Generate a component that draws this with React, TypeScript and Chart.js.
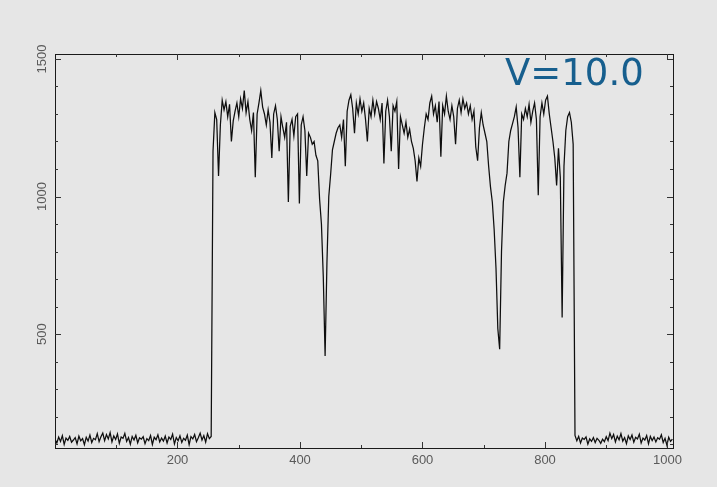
import React, { useEffect, useRef } from "react";
import { Chart, registerables } from "chart.js";

Chart.register(...registerables);

// Sampling step along the x axis (channel units)
const channelStep = 3;

// Left dark baseline (channels 0..255)
const baselineLeft = [
  118, 104, 126, 110, 131, 99, 122, 114, 128, 107,
  115, 124, 101, 129, 112, 120, 98, 125, 111, 133,
  106, 121, 116, 138, 109, 127, 140, 113, 135, 119,
  142, 108, 130, 117, 137, 103, 126, 121, 139, 110,
  124, 100, 128, 115, 132, 105, 123, 118, 127, 102,
  120, 113, 131, 99, 125, 116, 134, 108, 122, 111,
  129, 104, 126, 117, 136, 101, 124, 112, 130, 106,
  121, 114, 133, 98, 127, 119, 135, 109, 123, 140,
  115, 131, 107, 138, 120, 128,
];

// Illuminated spectrum (channels 258..846)
const spectrum = [
  1165, 1305, 1280, 1075, 1260, 1350, 1315, 1345, 1290, 1335,
  1200, 1275, 1310, 1340, 1290, 1355, 1320, 1385, 1305, 1345,
  1280, 1240, 1305, 1070, 1300, 1340, 1385, 1325, 1300, 1260,
  1315, 1270, 1140, 1300, 1330, 1280, 1165, 1290, 1250, 1215,
  1270, 980, 1255, 1280, 1220, 1290, 1300, 975, 1260, 1290,
  1240, 1075, 1230, 1215, 1190, 1200, 1150, 1130, 990, 900,
  710, 420, 760, 1000, 1080, 1170, 1200, 1230, 1250, 1260,
  1215, 1280, 1110, 1310, 1350, 1370, 1320, 1230, 1340, 1300,
  1355, 1310, 1340, 1280, 1200, 1320, 1290, 1350, 1300, 1345,
  1320, 1280, 1340, 1120, 1310, 1350, 1290, 1165, 1330, 1310,
  1345, 1100, 1290, 1260, 1230, 1270, 1215, 1245, 1200, 1175,
  1130, 1055, 1140, 1110, 1190, 1250, 1300, 1280, 1340, 1365,
  1300, 1330, 1270, 1345, 1145, 1330, 1300, 1365, 1310, 1280,
  1330, 1290, 1190, 1320, 1350, 1305, 1355, 1320, 1340, 1300,
  1330, 1280, 1310, 1180, 1130, 1250, 1305, 1260, 1230, 1200,
  1110, 1035, 980, 880, 740, 520, 445, 800, 980, 1040,
  1085, 1200, 1240, 1265, 1290, 1325, 1250, 1070, 1300, 1280,
  1320, 1290, 1335, 1270, 1310, 1340, 1280, 1005, 1290, 1340,
  1300, 1350, 1365, 1300, 1250, 1200, 1140, 1040, 1175, 1070,
  560, 1110, 1240, 1290, 1305, 1270, 1190,
];

// Right dark baseline (channels 849..1008)
const baselineRight = [
  132, 112, 128, 104, 122, 117, 126, 100, 119, 110,
  124, 106, 121, 114, 103, 118, 109, 127, 113, 140,
  120, 135, 108, 129, 116, 138, 111, 124, 102, 130,
  117, 133, 107, 125, 119, 136, 104, 122, 115, 131,
  101, 128, 113, 126, 108, 123, 118, 134, 106, 121,
  96, 125, 110, 118,
];

const xTickValues = [100, 200, 300, 400, 500, 600, 700, 800, 900, 1000];
const xTickLabels = ["200", "400", "600", "800", "1000"];
const yTickValues = [100, 200, 300, 400, 500, 600, 700, 800, 900, 1000, 1100, 1200, 1300, 1400, 1500];
const yTickLabels = ["500", "1000", "1500"];
const annotationText = "V=10.0";

const X_MIN = 0;
const X_MAX = 1009;
const Y_MIN = 86;
const Y_MAX = 1518;

const BG = "#e6e6e6";

export default function App() {
  const canvasRef = useRef<HTMLCanvasElement | null>(null);

  useEffect(() => {
    document.body.style.margin = "0";
    const canvas = canvasRef.current;
    if (!canvas) return;

    const counts = [...baselineLeft, ...spectrum, ...baselineRight];
    const points = counts.map((c, i) => ({ x: i * channelStep, y: c }));

    const framePlugin = {
      id: "framePlugin",
      beforeDraw(chart: any) {
        const ctx = chart.ctx;
        ctx.save();
        ctx.fillStyle = BG;
        ctx.fillRect(0, 0, chart.width, chart.height);
        ctx.restore();
      },
      afterDraw(chart: any) {
        const ctx = chart.ctx;
        const { left, right, top, bottom } = chart.chartArea;
        const xs = chart.scales.x;
        const ys = chart.scales.y;
        ctx.save();
        ctx.strokeStyle = "#1a1a1a";
        ctx.lineWidth = 1;
        ctx.strokeRect(Math.round(left) + 0.5, Math.round(top) + 0.5, Math.round(right - left), Math.round(bottom - top));

        ctx.strokeStyle = "#333";
        ctx.beginPath();
        xTickValues.forEach((v) => {
          const px = Math.round(xs.getPixelForValue(v)) + 0.5;
          const len = xTickLabels.includes(String(v)) ? 6 : 3;
          ctx.moveTo(px, bottom);
          ctx.lineTo(px, bottom - len);
          ctx.moveTo(px, top);
          ctx.lineTo(px, top + len);
        });
        yTickValues.forEach((v) => {
          const py = Math.round(ys.getPixelForValue(v)) + 0.5;
          const len = yTickLabels.includes(String(v)) ? 6 : 3;
          ctx.moveTo(left, py);
          ctx.lineTo(left + len, py);
          ctx.moveTo(right, py);
          ctx.lineTo(right - len, py);
        });
        ctx.stroke();

        ctx.fillStyle = "#5a5a5a";
        ctx.font = '13px "Liberation Sans", Arial, sans-serif';
        ctx.textAlign = "center";
        ctx.textBaseline = "middle";
        xTickLabels.forEach((lab) => {
          const px = xs.getPixelForValue(Number(lab));
          ctx.fillText(lab, px, bottom + 12);
        });
        yTickLabels.forEach((lab) => {
          const py = ys.getPixelForValue(Number(lab));
          ctx.save();
          ctx.translate(left - 12.5, py);
          ctx.rotate(-Math.PI / 2);
          ctx.fillText(lab, 0, 0);
          ctx.restore();
        });

        ctx.fillStyle = "#175f8e";
        ctx.font = '37px "DejaVu Sans", Verdana, sans-serif';
        ctx.textAlign = "left";
        ctx.textBaseline = "alphabetic";
        ctx.fillText(annotationText, 505, 85);
        ctx.restore();
      },
    };

    const chart = new Chart(canvas, {
      type: "line",
      data: {
        datasets: [
          {
            data: points,
            borderColor: "#0e0e0e",
            borderWidth: 1.25,
            pointRadius: 0,
            tension: 0,
            fill: false,
          },
        ],
      },
      options: {
        animation: false,
        responsive: false,
        maintainAspectRatio: false,
        parsing: false as any,
        layout: { padding: { left: 55, top: 54, right: 44, bottom: 39 } },
        plugins: { legend: { display: false }, tooltip: { enabled: false } },
        scales: {
          x: { type: "linear", min: X_MIN, max: X_MAX, display: false },
          y: { type: "linear", min: Y_MIN, max: Y_MAX, display: false },
        },
      },
      plugins: [framePlugin],
    });

    return () => chart.destroy();
  }, []);

  return (
    <div style={{ position: "fixed", left: 0, top: 0, width: 717, height: 487, background: BG }}>
      <canvas ref={canvasRef} width={717} height={487} style={{ display: "block" }} />
    </div>
  );
}
